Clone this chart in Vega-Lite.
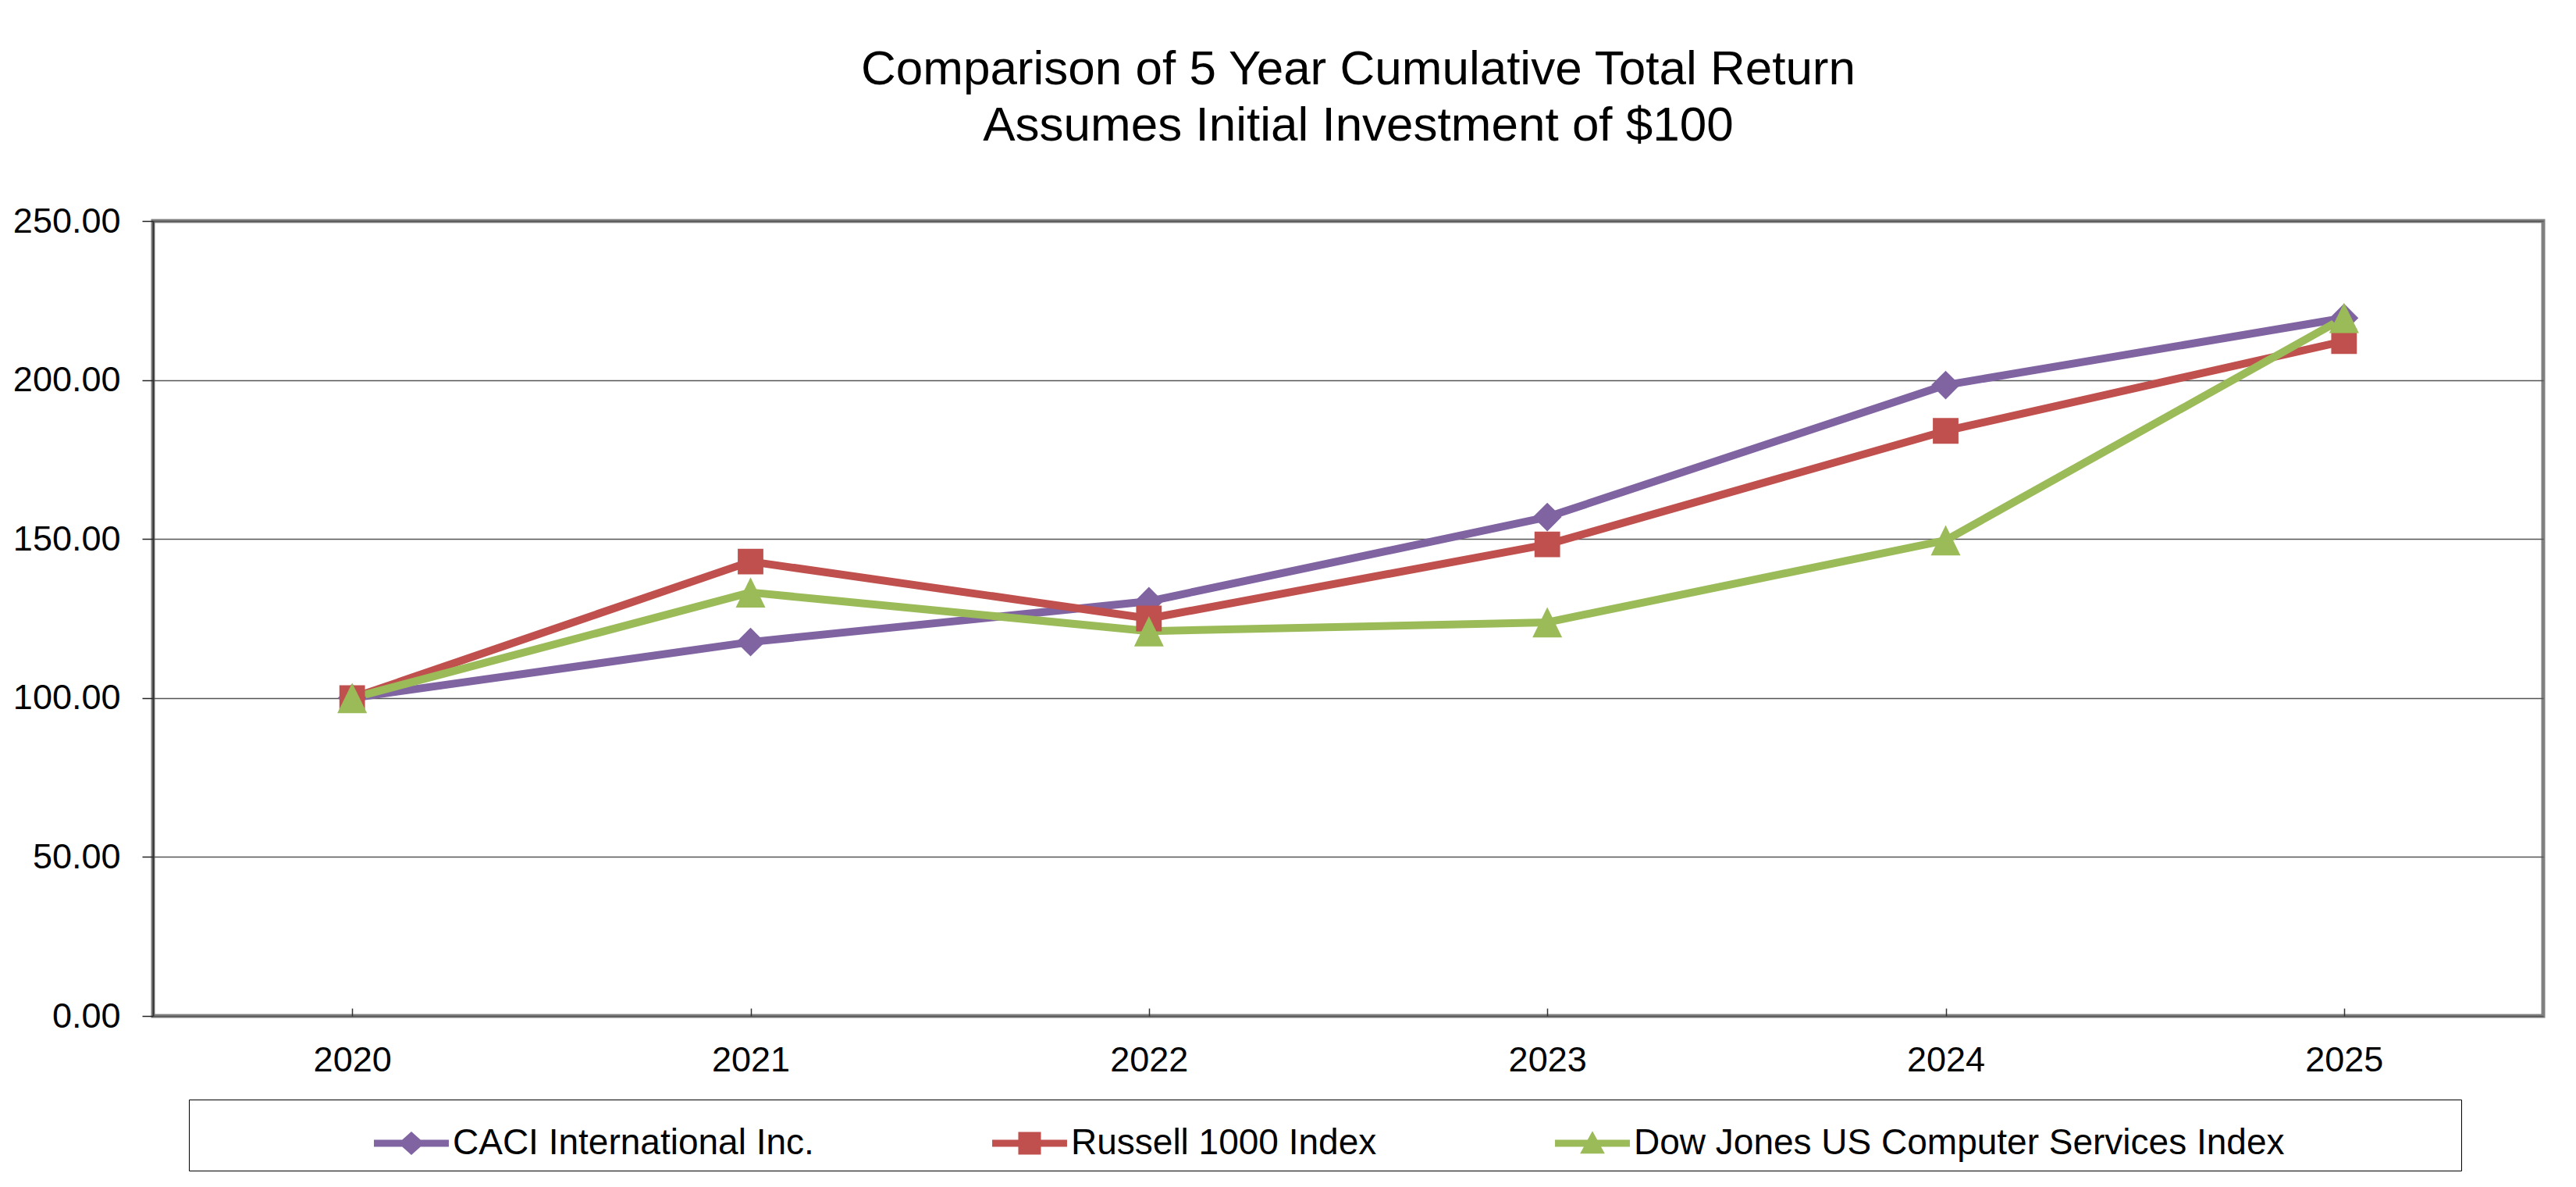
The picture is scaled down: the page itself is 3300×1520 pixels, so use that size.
{
  "$schema": "https://vega.github.io/schema/vega-lite/v6.json",
  "autosize": "none",
  "width": 3062,
  "height": 1018,
  "padding": {"left": 196, "top": 283, "right": 42, "bottom": 219},
  "background": "white",
  "title": {
    "text": ["Comparison of 5 Year Cumulative Total Return", "Assumes Initial Investment of $100"],
    "fontSize": 62,
    "fontWeight": "normal",
    "font": "Liberation Sans",
    "color": "black",
    "lineHeight": 72,
    "baseline": "bottom",
    "anchor": "middle",
    "dx": 13,
    "offset": 6
  },
  "data": {
    "values": [
      {"year": "2020", "series": "CACI International Inc.", "value": 100},
      {"year": "2021", "series": "CACI International Inc.", "value": 117.6},
      {"year": "2022", "series": "CACI International Inc.", "value": 130.4},
      {"year": "2023", "series": "CACI International Inc.", "value": 156.9},
      {"year": "2024", "series": "CACI International Inc.", "value": 198.4},
      {"year": "2025", "series": "CACI International Inc.", "value": 219.5},
      {"year": "2020", "series": "Russell 1000 Index", "value": 100},
      {"year": "2021", "series": "Russell 1000 Index", "value": 142.9},
      {"year": "2022", "series": "Russell 1000 Index", "value": 125.0},
      {"year": "2023", "series": "Russell 1000 Index", "value": 148.3},
      {"year": "2024", "series": "Russell 1000 Index", "value": 184.0},
      {"year": "2025", "series": "Russell 1000 Index", "value": 212.2},
      {"year": "2020", "series": "Dow Jones US Computer Services Index", "value": 100},
      {"year": "2021", "series": "Dow Jones US Computer Services Index", "value": 133.2},
      {"year": "2022", "series": "Dow Jones US Computer Services Index", "value": 121.0},
      {"year": "2023", "series": "Dow Jones US Computer Services Index", "value": 123.8},
      {"year": "2024", "series": "Dow Jones US Computer Services Index", "value": 149.6},
      {"year": "2025", "series": "Dow Jones US Computer Services Index", "value": 219.5}
    ]
  },
  "encoding": {
    "x": {
      "field": "year",
      "type": "ordinal",
      "scale": {"type": "point", "padding": 0.5},
      "axis": {
        "title": null,
        "labelAngle": 0,
        "domain": false,
        "grid": false,
        "tickSize": -10,
        "tickColor": "#333333",
        "tickWidth": 1.5,
        "labelPadding": 44
      }
    },
    "y": {
      "field": "value",
      "type": "quantitative",
      "scale": {"domain": [0, 250], "nice": false},
      "axis": {
        "title": null,
        "values": [0, 50, 100, 150, 200, 250],
        "format": ".2f",
        "tickSize": 14,
        "tickColor": "#222222",
        "tickWidth": 1.5,
        "labelPadding": 28,
        "domainColor": "#333333",
        "domainWidth": 2,
        "gridColor": "#555555",
        "gridWidth": 1.5
      }
    },
    "color": {
      "field": "series",
      "type": "nominal",
      "scale": {
        "domain": ["CACI International Inc.", "Russell 1000 Index", "Dow Jones US Computer Services Index"],
        "range": ["#8064A2", "#C0504D", "#9BBB59"]
      },
      "legend": null
    }
  },
  "layer": [
    {
      "mark": {"type": "line", "strokeWidth": 10, "strokeJoin": "round", "strokeCap": "round"}
    },
    {
      "mark": {"type": "point", "filled": true, "opacity": 1, "size": 1600},
      "encoding": {
        "shape": {
          "field": "series",
          "type": "nominal",
          "scale": {
            "domain": ["CACI International Inc.", "Russell 1000 Index", "Dow Jones US Computer Services Index"],
            "range": [
              "M0,-0.92L0.92,0L0,0.92L-0.92,0Z",
              "M-0.82,-0.82H0.82V0.82H-0.82Z",
              "M0,-0.97L0.95,0.97L-0.95,0.97Z"
            ]
          },
          "legend": null
        }
      }
    },
    {
      "mark": {"type": "point", "filled": true, "opacity": 0, "size": 100},
      "encoding": {
        "color": {
          "field": "series",
          "type": "nominal",
          "legend": {
            "title": ".",
            "titleOrient": "right",
            "titleColor": "white",
            "titleFontSize": 46,
            "titlePadding": 202,
            "orient": "none",
            "legendX": 46,
            "legendY": 1125,
            "direction": "horizontal",
            "padding": 12,
            "strokeColor": "black",
            "labelFontSize": 46,
            "labelFont": "Liberation Sans",
            "labelColor": "black",
            "labelLimit": 3000,
            "symbolSize": 7744,
            "symbolStrokeWidth": 0,
            "symbolOpacity": 1,
            "symbolOffset": 229,
            "labelOffset": 9,
            "columnPadding": 3
          }
        },
        "shape": {
          "field": "series",
          "type": "nominal",
          "scale": {
            "domain": ["CACI International Inc.", "Russell 1000 Index", "Dow Jones US Computer Services Index"],
            "range": [
              "M-1.09,-0.1H1.09V0.1H-1.09ZM0,-0.34L0.38,0L0,0.34L-0.38,0Z",
              "M-1.09,-0.1H1.09V0.1H-1.09ZM-0.33,-0.33H0.33V0.33H-0.33Z",
              "M-1.09,-0.1H1.09V0.1H-1.09ZM0,-0.36L0.36,0.3L-0.36,0.3Z"
            ]
          },
          "legend": {
            "title": ".",
            "titleOrient": "right",
            "titleColor": "white",
            "titleFontSize": 46,
            "titlePadding": 202,
            "orient": "none",
            "legendX": 46,
            "legendY": 1125,
            "direction": "horizontal",
            "padding": 12,
            "strokeColor": "black",
            "labelFontSize": 46,
            "labelFont": "Liberation Sans",
            "labelColor": "black",
            "labelLimit": 3000,
            "symbolSize": 7744,
            "symbolStrokeWidth": 0,
            "symbolOpacity": 1,
            "symbolOffset": 229,
            "labelOffset": 9,
            "columnPadding": 3
          }
        }
      }
    }
  ],
  "resolve": {
    "scale": {"shape": "independent"},
    "legend": {"color": "independent", "shape": "independent"}
  },
  "config": {
    "font": "Liberation Sans",
    "view": {"stroke": "#808080", "strokeWidth": 5},
    "axis": {
      "labelFontSize": 45,
      "labelFont": "Liberation Sans",
      "labelColor": "black"
    }
  }
}
